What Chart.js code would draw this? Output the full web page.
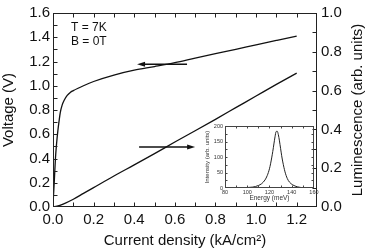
<!DOCTYPE html>
<html>
<head>
<meta charset="utf-8">
<script src="https://cdn.jsdelivr.net/npm/chart.js@4.4.1/dist/chart.umd.min.js"></script>
<style>
  body { margin: 0; background: #fff; }
  #wrap { position: relative; width: 368px; height: 250px; }
  #inset { position: absolute; left: 198px; top: 118px; }
</style>
</head>
<body>
<div id="wrap">
  <canvas id="main" width="368" height="250"></canvas>
  <canvas id="inset" width="122" height="86"></canvas>
</div>
<script>
// voltage vs current density (left axis)
const current = [0, 0.002, 0.006, 0.012, 0.018, 0.024, 0.03, 0.036, 0.045, 0.055, 0.07, 0.085, 0.1, 0.15, 0.2, 0.3, 0.4, 0.5, 0.6, 0.7, 0.8, 0.9, 1.0, 1.1, 1.2];
const voltage = [0, 0.08, 0.2, 0.4, 0.53, 0.63, 0.71, 0.78, 0.84, 0.88, 0.92, 0.945, 0.96, 1.0, 1.035, 1.088, 1.128, 1.158, 1.19, 1.228, 1.265, 1.3, 1.338, 1.374, 1.41];

// luminescence vs current density (right axis)
const currentLum = [0, 0.02, 0.05, 0.1, 0.15, 0.2, 0.3, 0.4, 0.5, 0.6, 0.7, 0.8, 0.9, 1.0, 1.1, 1.2];
const luminescence = [0, 0.004, 0.015, 0.04, 0.07, 0.1, 0.16, 0.217, 0.275, 0.335, 0.393, 0.452, 0.512, 0.572, 0.632, 0.69];

// inset spectrum
const energy = [80, 95, 105, 110, 113, 116, 118, 120, 121, 122, 123, 124, 125, 126, 127, 128, 129, 130, 131, 132, 134, 136, 138, 141, 145, 150, 160];
const intensity = [0, 1, 3, 8, 14, 26, 40, 62, 78, 97, 118, 142, 165, 182, 183, 172, 152, 128, 104, 84, 52, 31, 19, 10, 4, 1, 0];

// tick values
const xTicks = [0, 0.2, 0.4, 0.6, 0.8, 1.0, 1.2];
const xMinor = [0.1, 0.2, 0.3, 0.4, 0.5, 0.6, 0.7, 0.8, 0.9, 1.0, 1.1, 1.2];
const vTicks = [0, 0.2, 0.4, 0.6, 0.8, 1.0, 1.2, 1.4, 1.6];
const vMinor = [0.1, 0.2, 0.3, 0.4, 0.5, 0.6, 0.7, 0.8, 0.9, 1.0, 1.1, 1.2, 1.3, 1.4, 1.5];
const lumTicks = [0, 0.2, 0.4, 0.6, 0.8, 1.0];
const lumMinor = [0.1, 0.2, 0.3, 0.4, 0.5, 0.6, 0.7, 0.8, 0.9];
const eTicks = [80, 100, 120, 140, 160];
const eMinor = [90, 100, 110, 120, 130, 140, 150];
const iTicks = [0, 50, 100, 150, 200];
const iMinor = [25, 50, 75, 100, 125, 150, 175];

// arrows (data coordinates)
const arrowToVoltage = { axis: 'y', y: 1.177, from: 0.66, to: 0.414 };
const arrowToLum = { axis: 'y2', y: 0.309, from: 0.424, to: 0.70 };

const FONT = 'Liberation Sans, Arial, sans-serif';
const INK = '#111';

// box + inward tick marks
const frame = {
  id: 'frame',
  afterDatasetsDraw(chart, args, opts) {
    const { ctx, chartArea: a } = chart;
    const L = Math.round(a.left) + 0.5, R = Math.round(a.right) - 0.5;
    const T = Math.round(a.top) + 0.5, B = Math.round(a.bottom) - 0.5;
    ctx.save();
    ctx.strokeStyle = opts.color;
    ctx.lineWidth = 1;
    ctx.strokeRect(L, T, R - L, B - T);
    ctx.beginPath();
    opts.marks.forEach(m => {
      const s = chart.scales[m.scale];
      m.values.forEach(v => {
        const p = Math.round(s.getPixelForValue(v)) + 0.5;
        m.sides.forEach(side => {
          if (side === 'bottom') { ctx.moveTo(p, B); ctx.lineTo(p, B - opts.len); }
          if (side === 'top') { ctx.moveTo(p, T); ctx.lineTo(p, T + opts.len); }
          if (side === 'left') { ctx.moveTo(L, p); ctx.lineTo(L + opts.len, p); }
          if (side === 'right') { ctx.moveTo(R, p); ctx.lineTo(R - opts.len, p); }
        });
      });
    });
    ctx.stroke();
    ctx.restore();
  }
};

// arrows, T/B note and the right axis title
const extras = {
  id: 'extras',
  afterDatasetsDraw(chart) {
    const { ctx, chartArea: a, scales } = chart;
    ctx.save();
    ctx.strokeStyle = INK;
    ctx.fillStyle = INK;
    ctx.lineWidth = 1.4;
    [arrowToVoltage, arrowToLum].forEach(ar => {
      const y = scales[ar.axis].getPixelForValue(ar.y);
      const x0 = scales.x.getPixelForValue(ar.from);
      const x1 = scales.x.getPixelForValue(ar.to);
      const dir = Math.sign(x1 - x0);
      ctx.beginPath();
      ctx.moveTo(x0, y);
      ctx.lineTo(x1 - dir * 6, y);
      ctx.stroke();
      ctx.beginPath();
      ctx.moveTo(x1, y);
      ctx.lineTo(x1 - dir * 8, y - 2.5);
      ctx.lineTo(x1 - dir * 8, y + 2.5);
      ctx.closePath();
      ctx.fill();
    });

    ctx.font = '12px ' + FONT;
    ctx.textBaseline = 'middle';
    ctx.textAlign = 'left';
    ctx.fillText('T = 7K', a.left + 18, a.top + 15);
    ctx.fillText('B = 0T', a.left + 18, a.top + 29);

    ctx.font = '15px ' + FONT;
    ctx.textAlign = 'center';
    ctx.translate(chart.width - 10, (a.top + a.bottom) / 2);
    ctx.rotate(-Math.PI / 2);
    ctx.fillText('Luminescence (arb. units)', 0, 0);
    ctx.restore();
  }
};

const tickFont = { family: FONT, size: 15 };
const fixed1 = v => v.toFixed(1);

new Chart(document.getElementById('main'), {
  type: 'line',
  data: {
    datasets: [
      {
        data: current.map((c, i) => ({ x: c, y: voltage[i] })),
        yAxisID: 'y',
        borderColor: INK,
        borderWidth: 1.3,
        pointRadius: 0,
        cubicInterpolationMode: 'monotone',
      },
      {
        data: currentLum.map((c, i) => ({ x: c, y: luminescence[i] })),
        yAxisID: 'y2',
        borderColor: INK,
        borderWidth: 1.3,
        pointRadius: 0,
        cubicInterpolationMode: 'monotone',
      },
    ],
  },
  options: {
    responsive: false,
    animation: false,
    layout: { padding: { top: 13 } },
    plugins: {
      legend: { display: false },
      tooltip: { enabled: false },
      frame: {
        color: '#222',
        len: 4,
        marks: [
          { scale: 'x', values: xMinor, sides: ['bottom', 'top'] },
          { scale: 'y', values: vMinor, sides: ['left'] },
          { scale: 'y2', values: lumMinor, sides: ['right'] },
        ],
      },
    },
    scales: {
      x: {
        type: 'linear',
        min: 0,
        max: 1.3,
        grid: { display: false, drawTicks: false },
        border: { display: false },
        afterBuildTicks: s => { s.ticks = xTicks.map(v => ({ value: v })); },
        afterFit: s => { s.height = 43; },
        ticks: { font: tickFont, color: INK, padding: 4, maxRotation: 0, autoSkip: false, callback: fixed1 },
        title: { display: true, text: 'Current density (kA/cm²)', font: tickFont, color: INK, padding: { top: 0, bottom: 0 } },
      },
      y: {
        position: 'left',
        min: 0,
        max: 1.6,
        grid: { display: false, drawTicks: false },
        border: { display: false },
        afterBuildTicks: s => { s.ticks = vTicks.map(v => ({ value: v })); },
        afterFit: s => { s.width = 53; },
        ticks: { font: tickFont, color: INK, padding: 3, autoSkip: false, callback: fixed1 },
        title: { display: true, text: 'Voltage (V)', font: tickFont, color: INK, padding: { top: 0, bottom: 0 } },
      },
      y2: {
        position: 'right',
        min: 0,
        max: 1.0,
        grid: { display: false, drawTicks: false },
        border: { display: false },
        afterBuildTicks: s => { s.ticks = lumTicks.map(v => ({ value: v })); },
        afterFit: s => { s.width = 51; },
        ticks: { font: tickFont, color: INK, padding: 4, autoSkip: false, callback: fixed1 },
      },
    },
  },
  plugins: [frame, extras],
});

const insetInk = '#333';
new Chart(document.getElementById('inset'), {
  type: 'line',
  data: {
    datasets: [{
      data: energy.map((e, i) => ({ x: e, y: intensity[i] })),
      borderColor: '#222',
      borderWidth: 1,
      pointRadius: 0,
      cubicInterpolationMode: 'monotone',
    }],
  },
  options: {
    responsive: false,
    animation: false,
    layout: { padding: { top: 8, right: 4 } },
    plugins: {
      legend: { display: false },
      tooltip: { enabled: false },
      frame: {
        color: '#444',
        len: 2,
        marks: [
          { scale: 'x', values: eMinor, sides: ['bottom', 'top'] },
          { scale: 'y', values: iMinor, sides: ['left', 'right'] },
        ],
      },
    },
    scales: {
      x: {
        type: 'linear',
        min: 80,
        max: 160,
        grid: { display: false, drawTicks: false },
        border: { display: false },
        afterBuildTicks: s => { s.ticks = eTicks.map(v => ({ value: v })); },
        afterFit: s => { s.height = 16; },
        ticks: { font: { family: FONT, size: 5.5 }, color: insetInk, padding: 1.5, maxRotation: 0, autoSkip: false },
        title: { display: true, text: 'Energy (meV)', font: { family: FONT, size: 6.5 }, color: insetInk, padding: { top: 0, bottom: 1.5 } },
      },
      y: {
        min: 0,
        max: 200,
        grid: { display: false, drawTicks: false },
        border: { display: false },
        afterBuildTicks: s => { s.ticks = iTicks.map(v => ({ value: v })); },
        afterFit: s => { s.width = 27; },
        ticks: { font: { family: FONT, size: 5.5 }, color: insetInk, padding: 2, autoSkip: false },
        title: { display: true, text: 'Intensity (arb. units)', font: { family: FONT, size: 6 }, color: insetInk, padding: { top: 6, bottom: 0 } },
      },
    },
  },
  plugins: [frame],
});
</script>
</body>
</html>
